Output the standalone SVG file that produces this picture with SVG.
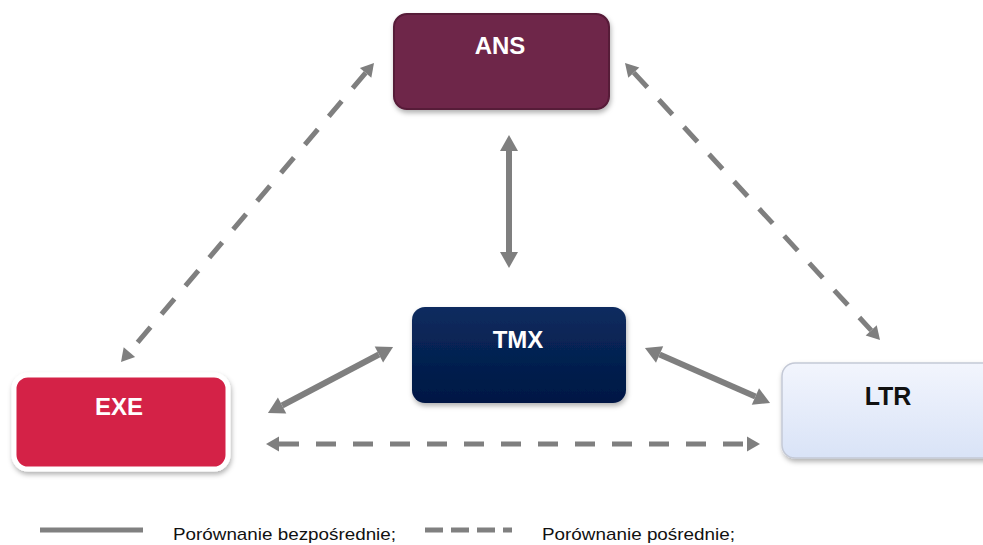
<svg xmlns="http://www.w3.org/2000/svg" width="983" height="545" viewBox="0 0 983 545">
<defs>
<style>
.lbl{font-family:"Liberation Sans",Arial,sans-serif;font-weight:bold;font-size:24px;text-anchor:middle}
.solid{stroke:#7f7f7f;stroke-width:6;fill:none}
.dash{stroke:#7f7f7f;stroke-width:5;fill:none;stroke-dasharray:20 17}
.leg{font-family:"Liberation Sans",Arial,sans-serif;font-size:17px;fill:#111}
</style>
<marker id="hs" markerUnits="userSpaceOnUse" markerWidth="20" markerHeight="22" viewBox="0 -11 17 22" refX="0" refY="0" orient="auto-start-reverse">
<path d="M0,-9 L16,0 L0,9 z" fill="#7f7f7f"/>
</marker>
<marker id="hd" markerUnits="userSpaceOnUse" markerWidth="16" markerHeight="18" viewBox="0 -9 14 18" refX="0" refY="0" orient="auto-start-reverse">
<path d="M0,-7.5 L13,0 L0,7.5 z" fill="#7f7f7f"/>
</marker>
<linearGradient id="gT" x1="0" y1="0" x2="0" y2="1">
<stop offset="0" stop-color="#0b2c5f"/>
<stop offset="1" stop-color="#001744"/>
</linearGradient>
<linearGradient id="gL" x1="0" y1="0" x2="0" y2="1">
<stop offset="0" stop-color="#f2f5fd"/>
<stop offset="1" stop-color="#d9e3f7"/>
</linearGradient>
<filter id="sh" x="-10%" y="-10%" width="120%" height="130%">
<feDropShadow dx="1" dy="3" stdDeviation="2.5" flood-color="#000" flood-opacity="0.3"/>
</filter>
</defs>
<rect width="983" height="545" fill="#fff"/>

<g id="connectors">
<line class="solid" x1="509" y1="151" x2="509" y2="252" marker-start="url(#hs)" marker-end="url(#hs)"/>
<line class="solid" x1="282.1" y1="405.5" x2="378.9" y2="354.5" marker-start="url(#hs)" marker-end="url(#hs)"/>
<line class="solid" x1="659.6" y1="354.5" x2="755.4" y2="396.5" marker-start="url(#hs)" marker-end="url(#hs)"/>
<line class="dash" x1="279" y1="444" x2="747" y2="444" marker-start="url(#hd)" marker-end="url(#hd)"/>
<line class="dash" x1="365.6" y1="72.9" x2="129.4" y2="352.1" marker-start="url(#hd)" marker-end="url(#hd)"/>
<line class="dash" x1="633.8" y1="72.6" x2="871.2" y2="330.4" marker-start="url(#hd)" marker-end="url(#hd)"/>
</g>

<g id="ANS">
<rect x="394" y="14" width="215" height="95" rx="13" fill="#6e2549" stroke="#561a38" stroke-width="2" filter="url(#sh)"/>
<text class="lbl" x="500" y="54" fill="#fff">ANS</text>
</g>
<g id="TMX">
<rect x="412" y="307" width="214" height="96" rx="13" fill="url(#gT)" filter="url(#sh)"/>
<text class="lbl" x="518" y="348" fill="#fff">TMX</text>
</g>
<g id="EXE">
<rect x="14" y="375" width="214" height="94" rx="14" fill="#d42046" stroke="#fff" stroke-width="5" filter="url(#sh)"/>
<text class="lbl" x="119" y="415" fill="#fff">EXE</text>
</g>
<g id="LTR">
<rect x="782" y="363" width="220" height="95" rx="13" fill="url(#gL)" stroke="#c4c9d6" stroke-width="1.5" filter="url(#sh)"/>
<text class="lbl" x="888" y="405" fill="#111" style="font-size:25px">LTR</text>
</g>

<g id="legend">
<line x1="40" y1="530" x2="143" y2="530" stroke="#808080" stroke-width="5"/>
<text class="leg" x="173" y="540" textLength="223" lengthAdjust="spacingAndGlyphs">Porównanie bezpośrednie;</text>
<line x1="425" y1="530" x2="512" y2="530" stroke="#808080" stroke-width="5" stroke-dasharray="18 8"/>
<text class="leg" x="542" y="540" textLength="193" lengthAdjust="spacingAndGlyphs">Porównanie pośrednie;</text>
</g>
</svg>
